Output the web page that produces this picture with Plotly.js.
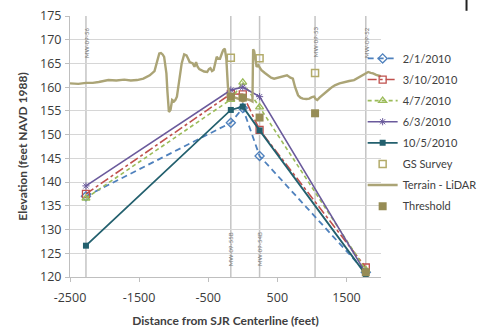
<!DOCTYPE html>
<html>
<head>
<meta charset="utf-8">
<script src="https://cdn.plot.ly/plotly-3.0.1.min.js"></script>
<style>html,body{margin:0;padding:0;background:#fff;}#chart{width:494px;height:328px;}</style>
</head>
<body>
<div id="chart"></div>
<script>
// ---- data ----
const seriesX = [-2269, -173, 0, 243, 1780];
const seriesNames = ["2/1/2010", "3/10/2010", "4/7/2010", "6/3/2010", "10/5/2010"];
const s2_1  = [137.0, 152.5, 155.6, 145.5, 121.0];
const s3_10 = [137.5, 158.6, 158.5, 151.0, 122.0];
const s4_7  = [136.6, 157.4, 161.0, 155.8, 121.5];
const s6_3  = [139.2, 159.4, 160.0, 158.0, 120.8];
const s10_5 = [126.6, 155.2, 155.9, 150.9, 120.5];

const gsX = [-173, 243, 1046];
const gsY = [166.2, 166.1, 163.0];

const thrX = [-173, 0, 243, 1046, 1780];
const thrY = [158.0, 157.8, 153.6, 154.5, 121.0];

const terrainX = [-2500,-2380,-2269,-2170,-2084,-1945,-1830,-1715,-1620,-1530,-1438,-1346,-1277,-1230,-1208,-1184,-1160,-1138,-1115,-1105,-1090,-1083,-1069,-1046,-1022,-995,-976,-953,-921,-884,-848,-814,-790,-769,-723,-699,-676,-654,-630,-607,-560,-515,-490,-468,-445,-422,-400,-377,-355,-330,-300,-284,-260,-238,-215,-191,-150,-100,-50,0,50,100,140,145,150,165,185,200,224,270,320,362,410,454,500,547,600,640,690,725,755,800,835,870,920,962,1000,1032,1055,1078,1110,1147,1195,1240,1290,1332,1400,1470,1540,1610,1660,1700,1760,1815,1850,1885,1930,1978,2000];
const terrainY = [160.8,160.7,160.9,160.9,161.1,161.5,161.4,161.6,161.4,161.5,161.8,162.5,163.4,165.7,167.1,167.2,166.9,166.4,164.5,162.9,159.0,157.3,154.8,155.2,157.3,157.0,157.3,158.0,161.5,165.0,166.9,166.7,166.0,165.3,165.0,164.3,165.3,164.3,163.8,163.6,163.3,163.2,163.8,164.0,163.4,163.6,165.0,166.4,166.0,166.0,167.2,167.8,168.1,166.0,160.1,158.7,158.0,157.8,157.5,157.0,157.5,157.3,157.0,163.0,168.0,167.6,165.5,164.3,164.6,163.6,163.0,162.5,162.0,161.8,162.0,162.2,162.3,162.5,162.0,161.8,160.1,158.3,157.8,157.6,157.5,157.6,157.9,158.0,157.5,157.3,157.8,158.3,158.9,159.4,160.0,160.4,160.8,161.1,161.3,161.5,161.9,162.2,162.7,163.2,163.0,162.9,162.6,162.5,162.3];

const wellX = [-2269, -173, 243, 1046, 1780];
const wellNames = ["MW-09-56", "MW-09-55B", "MW-09-54B", "MW-09-53", "MW-09-52"];
const wellLabelY = [169.5, 125.8, 125.8, 169.5, 169.5];

const xTicks = [-2500, -1500, -500, 500, 1500];
const xTitle = "Distance from SJR Centerline (feet)";
const yTitle = "Elevation (feet NAVD 1988)";

// ---- chart ----
const FONT = "Lato, 'Open Sans', sans-serif";
const TFONT = "'Open Sans', sans-serif";
const traces = [
  {name: seriesNames[0], x: seriesX, y: s2_1, mode: "lines+markers",
   line: {color: "#4f81bd", width: 1.8, dash: "6px,4px"},
   marker: {symbol: "diamond-open", size: 7, color: "#4f81bd", line: {width: 1.3}}},
  {name: seriesNames[1], x: seriesX, y: s3_10, mode: "lines+markers",
   line: {color: "#c0504d", width: 1.6, dash: "dashdot"},
   marker: {symbol: "square-open", size: 7, color: "#c0504d", line: {width: 1.3}}},
  {name: seriesNames[2], x: seriesX, y: s4_7, mode: "lines+markers",
   line: {color: "#9bbb59", width: 1.6, dash: "4px,3px"},
   marker: {symbol: "triangle-up-open", size: 7, color: "#9bbb59", line: {width: 1.3}}},
  {name: seriesNames[3], x: seriesX, y: s6_3, mode: "lines+markers",
   line: {color: "#6a5a9c", width: 1.6},
   marker: {symbol: "asterisk-open", size: 6, color: "#6a5a9c", line: {width: 1, color: "#6a5a9c"}}},
  {name: seriesNames[4], x: seriesX, y: s10_5, mode: "lines+markers",
   line: {color: "#23606e", width: 1.8},
   marker: {symbol: "square", size: 6, color: "#23606e"}},
  {name: "GS Survey", x: gsX, y: gsY, mode: "markers",
   marker: {symbol: "square-open", size: 7, color: "#b3ab6a", line: {width: 1.5}}},
  {name: "Terrain - LiDAR", x: terrainX, y: terrainY, mode: "lines",
   line: {color: "#aba476", width: 2.4}},
  {name: "Threshold", x: thrX, y: thrY, mode: "markers",
   marker: {symbol: "square", size: 8, color: "#968c55"}}
];
traces.forEach((t, i) => { t.legendgroup = "g" + i; });

const shapes = wellX.map(x => ({
  type: "line", xref: "x", yref: "y", x0: x, x1: x, y0: 120, y1: 175,
  line: {color: "#c4c4c4", width: 1.5}, layer: "below"
}));
shapes.push({type: "line", xref: "paper", yref: "paper", x0: 1.275, x1: 1.275, y0: 1.02, y1: 1.062,
  line: {color: "#222", width: 2}});

const annotations = wellX.map((x, i) => ({
  x: x, y: wellLabelY[i], xref: "x", yref: "y", text: wellNames[i],
  textangle: -90, showarrow: false, font: {family: FONT, size: 6, color: "#777"}
}));
annotations.push({
  xref: "paper", yref: "paper", x: -0.1538, y: 0.5, xanchor: "center", yanchor: "middle",
  text: "<b>" + yTitle + "</b>", textangle: -90, showarrow: false,
  font: {family: FONT, size: 12, color: "#404040"}
});

const layout = {
  width: 494, height: 328,
  margin: {l: 70, r: 99, t: 16, b: 51},
  paper_bgcolor: "#fff", plot_bgcolor: "#fff",
  font: {family: FONT, color: "#404040"},
  showlegend: true,
  legend: {x: 0.941, xanchor: "left", y: 0.893, yanchor: "top",
    bgcolor: "rgba(0,0,0,0)", font: {family: FONT, size: 11, color: "#404040"},
    tracegroupgap: 2.1, traceorder: "grouped"},
  xaxis: {range: [-2500, 2000], tickvals: xTicks, ticktext: xTicks.map(String),
    showgrid: false, zeroline: false, showline: true, linecolor: "#bfbfbf", linewidth: 1,
    ticks: "outside", ticklen: 4, tickcolor: "#bfbfbf", ticklabelstandoff: 5,
    tickfont: {family: TFONT, size: 12.5, color: "#3a3a3a"},
    title: {text: "<b>" + xTitle + "</b>", font: {family: FONT, size: 12, color: "#404040"}, standoff: 12}},
  yaxis: {range: [120, 175], dtick: 5, tick0: 120, showgrid: true, gridcolor: "#d6d6d6", gridwidth: 1,
    zeroline: false, showline: true, linecolor: "#bfbfbf", linewidth: 1,
    ticks: "outside", ticklen: 4, tickcolor: "#bfbfbf", ticklabelstandoff: 1,
    tickfont: {family: TFONT, size: 12.5, color: "#3a3a3a"}},
  shapes: shapes,
  annotations: annotations
};

Plotly.newPlot("chart", traces, layout, {displayModeBar: false, staticPlot: true});
</script>
</body>
</html>
